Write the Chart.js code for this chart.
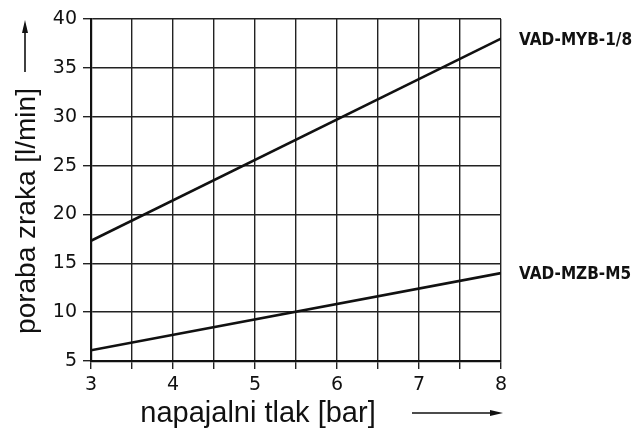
<!DOCTYPE html>
<html>
<head>
<meta charset="utf-8">
<script src="https://cdn.jsdelivr.net/npm/chart.js@4/dist/chart.umd.min.js"></script>
<style>
  html, body { margin: 0; padding: 0; background: #fff; }
  #wrap { width: 640px; height: 433px; }
</style>
</head>
<body>
<div id="wrap"><canvas id="chart" width="640" height="433"></canvas></div>
<script>
// --- data ---
const pressure = [3, 8];                 // napajalni tlak [bar]
const mybFlow = [17.3, 38.0];            // VAD-MYB-1/8
const mzbFlow = [6.1, 14.0];             // VAD-MZB-M5
const seriesNames = ['VAD-MYB-1/8', 'VAD-MZB-M5'];
const yTitle = 'poraba zraka [l/min]';
const xTitle = 'napajalni tlak [bar]';

const toPoints = (ys) => pressure.map((x, i) => ({ x: x, y: ys[i] }));

// axis titles, arrows and the end-of-line labels
const decorations = {
  id: 'decorations',
  afterDraw(chart) {
    const ctx = chart.ctx;
    const xs = chart.scales.x, ys = chart.scales.y;
    ctx.save();
    ctx.fillStyle = '#111';
    ctx.strokeStyle = '#111';

    // y title
    ctx.save();
    ctx.translate(27, 211);
    ctx.rotate(-Math.PI / 2);
    ctx.font = '28px "Liberation Sans", Arial, sans-serif';
    ctx.textAlign = 'center';
    ctx.textBaseline = 'middle';
    ctx.fillText(yTitle, 0, 0);
    ctx.restore();

    // x title
    ctx.font = '29px "Liberation Sans", Arial, sans-serif';
    ctx.textAlign = 'center';
    ctx.textBaseline = 'middle';
    ctx.fillText(xTitle, 258, 414);

    // arrows
    ctx.lineWidth = 1.6;
    ctx.beginPath(); ctx.moveTo(412, 413); ctx.lineTo(495, 413); ctx.stroke();
    ctx.beginPath(); ctx.moveTo(503, 413); ctx.lineTo(490, 410); ctx.lineTo(490, 416); ctx.closePath(); ctx.fill();
    ctx.beginPath(); ctx.moveTo(25, 72); ctx.lineTo(25, 28); ctx.stroke();
    ctx.beginPath(); ctx.moveTo(25, 20); ctx.lineTo(22, 33); ctx.lineTo(28, 33); ctx.closePath(); ctx.fill();

    // series labels
    ctx.font = 'bold 17px "DejaVu Sans Condensed", "DejaVu Sans", sans-serif';
    ctx.textAlign = 'left';
    ctx.textBaseline = 'middle';
    const ends = [mybFlow[mybFlow.length - 1], mzbFlow[mzbFlow.length - 1]];
    ends.forEach((v, i) => {
      const px = xs.getPixelForValue(pressure[pressure.length - 1]) + 18;
      const py = ys.getPixelForValue(v) + 2;
      ctx.fillText(seriesNames[i], px, py);
    });
    ctx.restore();
  }
};

new Chart(document.getElementById('chart'), {
  type: 'scatter',
  data: {
    datasets: [
      { label: seriesNames[0], data: toPoints(mybFlow), showLine: true, borderColor: '#111', borderWidth: 2.6, pointRadius: 0 },
      { label: seriesNames[1], data: toPoints(mzbFlow), showLine: true, borderColor: '#111', borderWidth: 2.6, pointRadius: 0 }
    ]
  },
  options: {
    responsive: false,
    animation: false,
    layout: { padding: { top: 19, right: 139, left: 0, bottom: 0 } },
    plugins: { legend: { display: false }, tooltip: { enabled: false } },
    scales: {
      x: {
        type: 'linear', min: 3, max: 8,
        afterFit(s) { s.height = 72; },
        border: { color: '#111', width: 2.2 },
        grid: { color: '#222', lineWidth: 1.4, tickLength: 8, tickColor: '#222' },
        ticks: {
          stepSize: 0.5, padding: 5, color: '#111',
          font: { family: '"DejaVu Sans", sans-serif', size: 19 },
          callback: (v) => Number.isInteger(v) ? String(v) : ''
        }
      },
      y: {
        type: 'linear', min: 5, max: 40,
        afterFit(s) { s.width = 91; },
        border: { color: '#111', width: 2.2 },
        grid: { color: '#222', lineWidth: 1.4, tickLength: 8, tickColor: '#222' },
        ticks: {
          stepSize: 5, padding: 6, color: '#111',
          font: { family: '"DejaVu Sans", sans-serif', size: 19 }
        }
      }
    }
  },
  plugins: [decorations]
});
</script>
</body>
</html>
